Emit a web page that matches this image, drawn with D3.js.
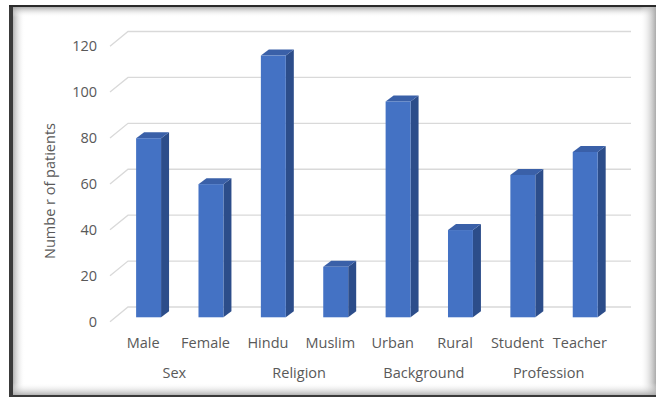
<!DOCTYPE html>
<html>
<head>
<meta charset="utf-8">
<script src="https://cdnjs.cloudflare.com/ajax/libs/d3/7.8.5/d3.min.js"></script>
<style>
  body { margin: 0; background: #fff; }
  svg { display: block; }
</style>
</head>
<body>
<script>
var categories = ['Male', 'Female', 'Hindu', 'Muslim', 'Urban', 'Rural', 'Student', 'Teacher']
var patients = [78, 58, 114, 22, 94, 38, 62, 72]
var groupNames = ['Sex', 'Religion', 'Background', 'Profession']
var groupMembers = [['Male', 'Female'], ['Hindu', 'Muslim'], ['Urban', 'Rural'], ['Student', 'Teacher']]
var yTicks = [0, 20, 40, 60, 80, 100, 120]
var yTitle = 'Numbe r of patients'

var width = 657
var height = 398
var depthX = 18 // full floor depth in px
var depthY = -14.7
var barFront = 0.3 // bar front sits this far into the floor
var barDX = 8
var barDY = -6
var font = '"Open Sans", sans-serif'
var textColor = '#595959'

var svg = d3.select('body').append('svg')
  .attr('width', width)
  .attr('height', height)

var defs = svg.append('defs')

function grad(id, x2, y2, stops) {
  var g = defs.append('linearGradient').attr('id', id)
    .attr('x1', 0).attr('y1', 0).attr('x2', x2).attr('y2', y2)
  stops.forEach(function(s) {
    g.append('stop').attr('offset', s[0]).attr('stop-color', s[1]).attr('stop-opacity', s[2])
  })
}
grad('shL', 1, 0, [[0, '#777', 1], [1, '#fff', 0]])
grad('shT', 0, 1, [[0, '#888', 1], [1, '#fff', 0]])
grad('shR', 1, 0, [[0, '#fff', 0], [1, '#aaa', 1]])
grad('shB', 0, 1, [[0, '#fff', 0], [1, '#999', 1]])

// frame with inner shadow
var fx = 9, fy = 5, fw = 647, fh = 392
svg.append('rect').attr('x', fx).attr('y', fy).attr('width', fw).attr('height', fh).attr('fill', '#fff')
svg.append('rect').attr('x', fx).attr('y', fy).attr('width', 16).attr('height', fh).attr('fill', 'url(#shL)')
svg.append('rect').attr('x', fx).attr('y', fy).attr('width', fw).attr('height', 12).attr('fill', 'url(#shT)')
svg.append('rect').attr('x', fx + fw - 16).attr('y', fy).attr('width', 16).attr('height', fh).attr('fill', 'url(#shR)')
svg.append('rect').attr('x', fx).attr('y', fy + fh - 14).attr('width', fw).attr('height', 14).attr('fill', 'url(#shB)')
svg.append('rect').attr('x', fx).attr('y', fy).attr('width', 4).attr('height', fh).attr('fill', '#3a3a3a')
svg.append('rect').attr('x', fx).attr('y', fy).attr('width', fw).attr('height', 2).attr('fill', '#2a2a2a')
svg.append('rect').attr('x', fx).attr('y', fy + fh - 2).attr('width', fw).attr('height', 2).attr('fill', '#3a3a3a')

var x = d3.scaleBand()
  .domain(categories)
  .range([112, 611])
  .paddingInner(0.6)
  .paddingOuter(0.3)

var y = d3.scaleLinear()
  .domain([0, 120])
  .range([321.7, 46.2])

// gridlines: side wall diagonal + back wall
var grid = svg.append('g')
grid.selectAll('path')
  .data(yTicks)
  .enter()
  .append('path')
  .attr('d', function(d) {
    var y0 = y(d)
    return 'M110,' + y0 + 'L' + (110 + depthX) + ',' + (y0 + depthY) + 'L' + (613 + depthX) + ',' + (y0 + depthY)
  })
  .attr('fill', 'none')
  .attr('stroke', '#d9d9d9')
  .attr('stroke-width', 1.3)

// y tick labels
svg.append('g').selectAll('text')
  .data(yTicks)
  .enter()
  .append('text')
  .attr('x', 97)
  .attr('y', function(d) { return y(d) })
  .attr('dy', '0.35em')
  .attr('text-anchor', 'end')
  .style('font-family', font)
  .style('font-size', '14.5px')
  .style('fill', textColor)
  .text(function(d) { return d })

// y title
svg.append('text')
  .attr('transform', 'translate(55,191) rotate(-90)')
  .attr('text-anchor', 'middle')
  .style('font-family', font)
  .style('font-size', '14.5px')
  .style('fill', textColor)
  .text(yTitle)

// 3d bars
var bars = svg.append('g').selectAll('g')
  .data(categories.map(function(c, i) { return { cat: c, val: patients[i] } }))
  .enter()
  .append('g')

function fx0(d) { return x(d.cat) + barFront * depthX }
function fy0() { return y(0) + barFront * depthY }
function fyTop(d) { return y(d.val) + barFront * depthY }

bars.append('path') // side face
  .attr('d', function(d) {
    var x1 = fx0(d) + x.bandwidth()
    return 'M' + x1 + ',' + fyTop(d) + 'L' + (x1 + barDX) + ',' + (fyTop(d) + barDY) +
      'L' + (x1 + barDX) + ',' + (fy0() + barDY) + 'L' + x1 + ',' + fy0() + 'Z'
  })
  .attr('fill', '#2c4d8a')

bars.append('path') // top face
  .attr('d', function(d) {
    var x0 = fx0(d), x1 = x0 + x.bandwidth(), t = fyTop(d)
    return 'M' + x0 + ',' + t + 'L' + (x0 + barDX) + ',' + (t + barDY) +
      'L' + (x1 + barDX) + ',' + (t + barDY) + 'L' + x1 + ',' + t + 'Z'
  })
  .attr('fill', '#3a60a8')

bars.append('rect') // front face
  .attr('x', fx0)
  .attr('y', fyTop)
  .attr('width', x.bandwidth())
  .attr('height', function(d) { return fy0() - fyTop(d) })
  .attr('fill', '#4472c4')

// category labels
svg.append('g').selectAll('text')
  .data(categories)
  .enter()
  .append('text')
  .attr('x', function(d) { return x(d) + x.bandwidth() / 2 })
  .attr('y', 343)
  .attr('dy', '0.35em')
  .attr('text-anchor', 'middle')
  .style('font-family', font)
  .style('font-size', '14.5px')
  .style('fill', textColor)
  .text(function(d) { return d })

// group labels
svg.append('g').selectAll('text')
  .data(groupNames)
  .enter()
  .append('text')
  .attr('x', function(d, i) {
    var m = groupMembers[i]
    return (x(m[0]) + x(m[m.length - 1]) + x.bandwidth()) / 2
  })
  .attr('y', 373)
  .attr('dy', '0.35em')
  .attr('text-anchor', 'middle')
  .style('font-family', font)
  .style('font-size', '14.5px')
  .style('fill', textColor)
  .text(function(d) { return d })
</script>
</body>
</html>
